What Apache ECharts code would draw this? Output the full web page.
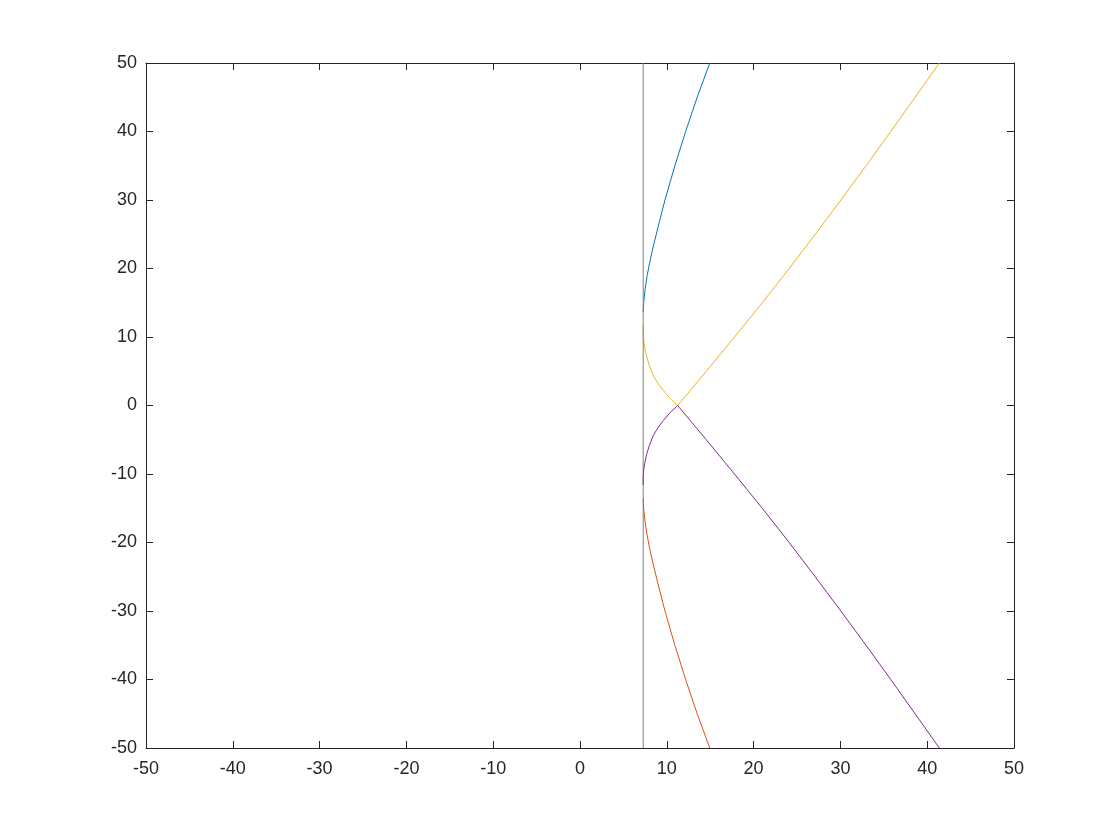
<!DOCTYPE html>
<html>
<head>
<meta charset="utf-8">
<title>Root locus</title>
<script src="https://cdn.jsdelivr.net/npm/echarts@6/dist/echarts.min.js"></script>
<style>
  html, body { margin: 0; padding: 0; background: #fff; }
  #chart { width: 1120px; height: 840px; }
</style>
</head>
<body>
<div id="chart"></div>
<script>
// axis range and ticks
var axisMin = -50;
var axisMax = 50;
var tickStep = 10;

var branchBlue = [
  [7.28, 13.6], [7.33, 15], [7.5, 17], [7.74, 19], [8.05, 21], [8.4, 23],
  [8.98, 26], [9.79, 30], [10.93, 35], [12.17, 40], [13.5, 45], [14.95, 50]
];
var branchRed = [
  [7.28, -13.6], [7.33, -15], [7.5, -17], [7.74, -19], [8.05, -21], [8.4, -23],
  [8.98, -26], [9.79, -30], [10.93, -35], [12.17, -40], [13.5, -45], [14.95, -50]
];
var branchYellow = [
  [7.28, 11.6], [7.28, 10.4], [7.32, 9.6], [7.45, 8.5], [7.66, 7.2], [8.0, 5.8],
  [8.43, 4.4], [9.0, 3.2], [9.6, 2.2], [10.4, 1.0], [11.25, 0], [14.55, 5],
  [17.8, 10], [21.0, 15], [24.1, 20], [27.1, 25], [30.05, 30], [32.95, 35],
  [35.8, 40], [38.6, 45], [41.4, 50]
];
var branchPurple = [
  [7.28, -11.6], [7.28, -10.4], [7.32, -9.6], [7.45, -8.5], [7.66, -7.2], [8.0, -5.8],
  [8.43, -4.4], [9.0, -3.2], [9.6, -2.2], [10.4, -1.0], [11.25, 0], [14.55, -5],
  [17.8, -10], [21.0, -15], [24.1, -20], [27.1, -25], [30.05, -30], [32.95, -35],
  [35.8, -40], [38.6, -45], [41.4, -50]
];
var asymptoteX = 7.28;
var asymptoteLine = [[asymptoteX, axisMin], [asymptoteX, axisMax]];

var colors = ['#0072BD', '#D95319', '#EDB120', '#808080', '#7E2F8E'];

function valueAxis(pos, labels, margin) {
  return {
    type: 'value',
    position: pos,
    min: axisMin,
    max: axisMax,
    interval: tickStep,
    axisLine: { show: true, onZero: false, lineStyle: { color: '#262626', width: 1 } },
    axisTick: { show: true, inside: true, length: 7, lineStyle: { color: '#262626' } },
    splitLine: { show: false },
    axisLabel: {
      show: labels,
      color: '#262626',
      fontSize: 18,
      fontFamily: 'Liberation Sans, Arial, sans-serif',
      margin: margin,
      showMinLabel: true,
      showMaxLabel: true
    }
  };
}

function branch(data, color) {
  return {
    type: 'line',
    data: data,
    showSymbol: false,
    symbol: 'none',
    smooth: false,
    silent: true,
    animation: false,
    lineStyle: { color: color, width: 1 }
  };
}

var chart = echarts.init(document.getElementById('chart'));
chart.setOption({
  backgroundColor: '#ffffff',
  animation: false,
  grid: { left: 146, top: 63, width: 868, height: 685, containLabel: false },
  xAxis: [valueAxis('bottom', true, 12), valueAxis('top', false, 10)],
  yAxis: [valueAxis('left', true, 9), valueAxis('right', false, 10)],
  series: [
    branch(branchBlue, colors[0]),
    branch(branchRed, colors[1]),
    branch(branchYellow, colors[2]),
    branch(asymptoteLine, colors[3]),
    branch(branchPurple, colors[4])
  ]
});
</script>
</body>
</html>
